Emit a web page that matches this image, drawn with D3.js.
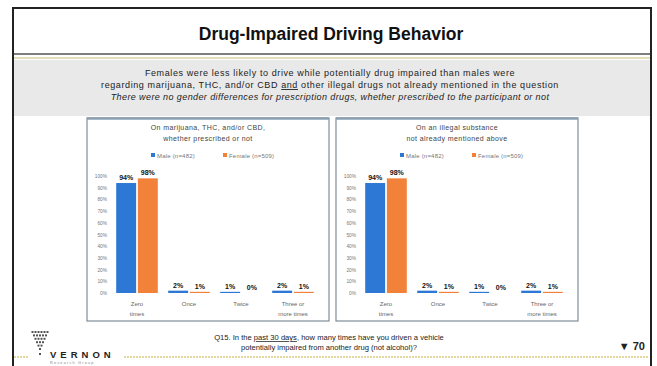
<!DOCTYPE html>
<html>
<head>
<meta charset="utf-8">
<script src="https://cdn.jsdelivr.net/npm/d3@7"></script>
<style>
  body { margin: 0; background: #fff; }
  text { font-family: "Liberation Sans", Arial, sans-serif; }
</style>
</head>
<body>
<script>
// data
var categories = ["Zero times", "Once", "Twice", "Three or more times"];
var categoryLines = [["Zero", "times"], ["Once"], ["Twice"], ["Three or", "more times"]];
var seriesNames = ["Male (n=482)", "Female (n=509)"];
var marijuanaMale = [94, 2, 1, 2];
var marijuanaFemale = [98, 1, 0, 1];
var illegalMale = [94, 2, 1, 2];
var illegalFemale = [98, 1, 0, 1];
var yTicks = [0, 10, 20, 30, 40, 50, 60, 70, 80, 90, 100];

var colors = ["#2d78d4", "#f2823a"];

var W = 657, H = 366;
var svg = d3.select("body").append("svg")
    .attr("width", W)
    .attr("height", H);

// slide frame
svg.append("rect").attr("x", 0).attr("y", 0).attr("width", W).attr("height", H).attr("fill", "#fff");
svg.append("path")
    .attr("d", "M13,366 L13,8 L651,8 L651,366")
    .attr("fill", "none").attr("stroke", "#222").attr("stroke-width", 2);

// title
svg.append("text")
    .attr("x", 331).attr("y", 40)
    .attr("text-anchor", "middle")
    .attr("font-size", 17.5).attr("font-weight", "bold").attr("fill", "#111")
    .text("Drug-Impaired Driving Behavior");

// double rule under title
svg.append("line").attr("x1", 14).attr("x2", 650).attr("y1", 54).attr("y2", 54)
    .attr("stroke", "#555").attr("stroke-width", 1.5);
svg.append("line").attr("x1", 14).attr("x2", 650).attr("y1", 58).attr("y2", 58)
    .attr("stroke", "#d9d2a0").attr("stroke-width", 1.5);

// grey summary band
svg.append("rect").attr("x", 14).attr("y", 60).attr("width", 636).attr("height", 56).attr("fill", "#e9e9e9");

svg.append("text").attr("x", 330).attr("y", 76).attr("text-anchor", "middle")
    .attr("font-size", 9).attr("letter-spacing", 0.6).attr("fill", "#222")
    .text("Females were less likely to drive while potentially drug impaired than males were");
var l2 = svg.append("text").attr("x", 330).attr("y", 88).attr("text-anchor", "middle")
    .attr("font-size", 9).attr("letter-spacing", 0.6).attr("fill", "#222");
l2.append("tspan").text("regarding marijuana, THC, and/or CBD ");
l2.append("tspan").attr("text-decoration", "underline").text("and");
l2.append("tspan").text(" other illegal drugs not already mentioned in the question");
svg.append("text").attr("x", 330).attr("y", 100).attr("text-anchor", "middle")
    .attr("font-size", 9).attr("letter-spacing", 0.4).attr("font-style", "italic").attr("fill", "#222")
    .text("There were no gender differences for prescription drugs, whether prescribed to the participant or not");

// one chart panel
function drawPanel(x0, titleLines, male, female) {
  var pw = 242, ph = 203, y0 = 118;
  var g = svg.append("g").attr("transform", "translate(" + x0 + "," + y0 + ")");
  g.append("rect").attr("x", 0).attr("y", 0).attr("width", pw).attr("height", ph)
      .attr("fill", "#fff").attr("stroke", "#7f8c99").attr("stroke-width", 1.2);
  g.append("line").attr("x1", 0).attr("x2", pw).attr("y1", 0.5).attr("y2", 0.5)
      .attr("stroke", "#8da0b3").attr("stroke-width", 2.5);

  titleLines.forEach(function(t, i) {
    g.append("text").attr("x", pw / 2).attr("y", 12 + i * 11)
        .attr("text-anchor", "middle").attr("font-size", 7).attr("letter-spacing", 0.4)
        .attr("fill", "#444").text(t);
  });

  // legend
  var legend = g.append("g").attr("transform", "translate(0,38)");
  var lx = [64, 136];
  seriesNames.forEach(function(n, i) {
    legend.append("rect").attr("x", lx[i]).attr("y", -3).attr("width", 4).attr("height", 4).attr("fill", colors[i]);
    legend.append("text").attr("x", lx[i] + 6).attr("y", 1.5).attr("font-size", 6).attr("letter-spacing", 0.2)
        .attr("fill", "#777").text(n);
  });

  var x = d3.scaleBand().domain(categories).range([24, 232]).paddingInner(0.2).paddingOuter(0.1);
  var y = d3.scaleLinear().domain([0, 100]).range([175, 58]);
  var xs = d3.scaleBand().domain([0, 1]).range([0, x.bandwidth()]).paddingInner(0.08);

  var yAxis = g.append("g").attr("transform", "translate(22,0)")
      .call(d3.axisLeft(y).tickValues(yTicks).tickFormat(function(d) { return d + "%"; }).tickSize(0).tickPadding(2));
  yAxis.select(".domain").remove();
  yAxis.selectAll("text").attr("font-size", 4.8).attr("fill", "#777").attr("font-family", "Liberation Sans, Arial, sans-serif");

  var data = categories.map(function(c, i) { return {cat: c, vals: [male[i], female[i]]}; });
  var groups = g.selectAll(".cat").data(data).enter().append("g")
      .attr("transform", function(d) { return "translate(" + x(d.cat) + ",0)"; });

  groups.selectAll("rect").data(function(d) { return d.vals; }).enter().append("rect")
      .attr("x", function(d, i) { return xs(i); })
      .attr("y", function(d) { return y(d); })
      .attr("width", xs.bandwidth())
      .attr("height", function(d) { return y(0) - y(d); })
      .attr("fill", function(d, i) { return colors[i]; });

  groups.selectAll(".lbl").data(function(d) { return d.vals; }).enter().append("text")
      .attr("x", function(d, i) { return xs(i) + xs.bandwidth() / 2; })
      .attr("y", function(d) { return y(d) - 3; })
      .attr("text-anchor", "middle").attr("font-size", 7).attr("font-weight", "bold").attr("fill", "#111")
      .text(function(d) { return d + "%"; });

  categoryLines.forEach(function(lines, i) {
    lines.forEach(function(t, j) {
      g.append("text").attr("x", x(categories[i]) + x.bandwidth() / 2).attr("y", 188 + j * 10)
          .attr("text-anchor", "middle").attr("font-size", 6).attr("fill", "#666").text(t);
    });
  });
}

drawPanel(87, ["On marijuana, THC, and/or CBD,", "whether prescribed or not"], marijuanaMale, marijuanaFemale);
drawPanel(336, ["On an illegal substance", "not already mentioned above"], illegalMale, illegalFemale);

// footer
svg.append("text").attr("x", 329).attr("y", 340).attr("text-anchor", "middle")
    .attr("font-size", 7.6).attr("fill", "#222")
    .call(function(t) {
      t.append("tspan").text("Q15. In the ");
      t.append("tspan").attr("text-decoration", "underline").text("past 30 days");
      t.append("tspan").text(", how many times have you driven a vehicle");
    });
svg.append("text").attr("x", 329).attr("y", 350).attr("text-anchor", "middle")
    .attr("font-size", 7.6).attr("fill", "#222")
    .text("potentially impaired from another drug (not alcohol)?");

svg.append("line").attr("x1", 14).attr("x2", 28).attr("y1", 357).attr("y2", 357)
    .attr("stroke", "#c8b23c").attr("stroke-width", 1).attr("stroke-dasharray", "2,1");
svg.append("line").attr("x1", 124).attr("x2", 648).attr("y1", 357).attr("y2", 357)
    .attr("stroke", "#c8b23c").attr("stroke-width", 1).attr("stroke-dasharray", "2,1");

// logo: triangle of dots + wordmark
var logo = svg.append("g").attr("transform", "translate(40,331)");
d3.range(6).forEach(function(r) {
  var n = 6 - r;
  d3.range(n).forEach(function(c) {
    logo.append("rect").attr("x", c * 3 - (n - 1) * 1.5 - 1).attr("y", r * 3.4).attr("width", 2).attr("height", 2).attr("fill", "#555");
  });
});
logo.append("rect").attr("x", -1).attr("y", 22).attr("width", 2).attr("height", 2).attr("fill", "#555");
svg.append("text").attr("x", 50).attr("y", 358).attr("font-size", 9.5).attr("font-weight", "bold")
    .attr("letter-spacing", 4).attr("fill", "#222").text("VERNON");
svg.append("text").attr("x", 50).attr("y", 364).attr("font-size", 3.8).attr("letter-spacing", 1.2)
    .attr("fill", "#888").text("Research Group");

svg.append("text").attr("x", 645).attr("y", 350).attr("text-anchor", "end")
    .attr("font-size", 11).attr("font-weight", "bold").attr("fill", "#222").text("\u25BC 70");
</script>
</body>
</html>
